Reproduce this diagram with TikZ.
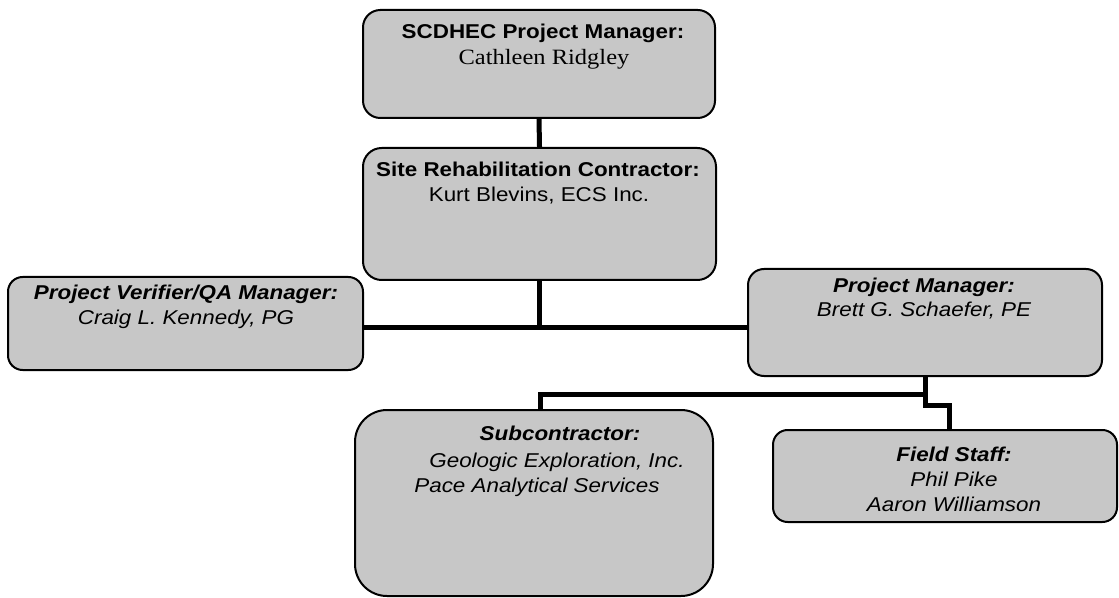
\documentclass[tikz,border=0pt]{standalone}
\usepackage{fontspec}
\newfontfamily\sfx[FakeStretch=1.12]{Liberation Sans}
\newfontfamily\rmx[FakeStretch=1.12]{Liberation Serif}
\usetikzlibrary{fit,calc}
\definecolor{boxfill}{gray}{0.78}
\begin{document}
\begin{tikzpicture}[x=0.75pt,y=-0.75pt,
  box/.style={draw=black, line width=1.5pt, fill=boxfill, inner sep=0pt},
  conn/.style={draw=black, line width=3.75pt},
  txt/.style={inner sep=0pt, anchor=base, font=\sfx\fontsize{15}{18}\selectfont},
  ttl/.style={txt, font=\sfx\bfseries\fontsize{15}{18}\selectfont},
  ttli/.style={txt, font=\sfx\bfseries\itshape\fontsize{15}{18}\selectfont},
  txti/.style={txt, font=\sfx\itshape\fontsize{15}{18}\selectfont},
  txtr/.style={txt, font=\rmx\fontsize{16.4}{18}\selectfont}]
\useasboundingbox (0,0) rectangle (1119,598);
% boxes
\node[box, rounded corners=13pt, fit={(363,10) (715,118)}] (b1) {};
\node[box, rounded corners=14pt, fit={(363,148) (716,280)}] (b2) {};
\node[box, rounded corners=11pt, fit={(8,277) (363,370)}] (b3) {};
\node[box, rounded corners=12pt, fit={(748,269) (1102,376)}] (b4) {};
\node[box, rounded corners=24pt, fit={(355,410) (713,596)}] (b5) {};
\node[box, rounded corners=11pt, fit={(773,430) (1117,522)}] (b6) {};
% junction points
\coordinate (j0) at (540,327);
\coordinate (j1) at (540,394);
\coordinate (j2) at (949,405);
% connectors
\draw[conn] (b1.south) -- (b2.north);
\draw[conn] (b2.south) -- (b2.south |- j0);
\draw[conn] (b3.east |- j0) -- (b4.west |- j0);
\draw[conn] (b4.south) |- (j2) -- (j2 |- b6.north);
\draw[conn] (b4.south |- j1) -- (j1) -- (j1 |- b5.north);
% texts
\node[ttl] (t1a) at (543,39) {SCDHEC Project Manager:};
\node[txtr] (t1b) at (544,65) {Cathleen Ridgley};
\node[ttl] (t2a) at (538,177) {Site Rehabilitation Contractor:};
\node[txt] (t2b) at (539,202) {Kurt Blevins, ECS Inc.};
\node[ttli] (t3a) at (186,300) {Project Verifier/QA Manager:};
\node[txti] (t3b) at (186,324) {Craig L. Kennedy, PG};
\node[ttli] (t4a) at (924,292) {Project Manager:};
\node[txti] (t4b) at (924,316) {Brett G. Schaefer, PE};
\node[ttli] (t5a) at (560,440) {Subcontractor:};
\node[txti] (t5b) at (557,467) {Geologic Exploration, Inc.};
\node[txti] (t5c) at (537,492) {Pace Analytical Services};
\node[ttli] (t6a) at (954,461) {Field Staff:};
\node[txti] (t6b) at (954,486) {Phil Pike};
\node[txti] (t6c) at (954,511) {Aaron Williamson};
\end{tikzpicture}
\end{document}
